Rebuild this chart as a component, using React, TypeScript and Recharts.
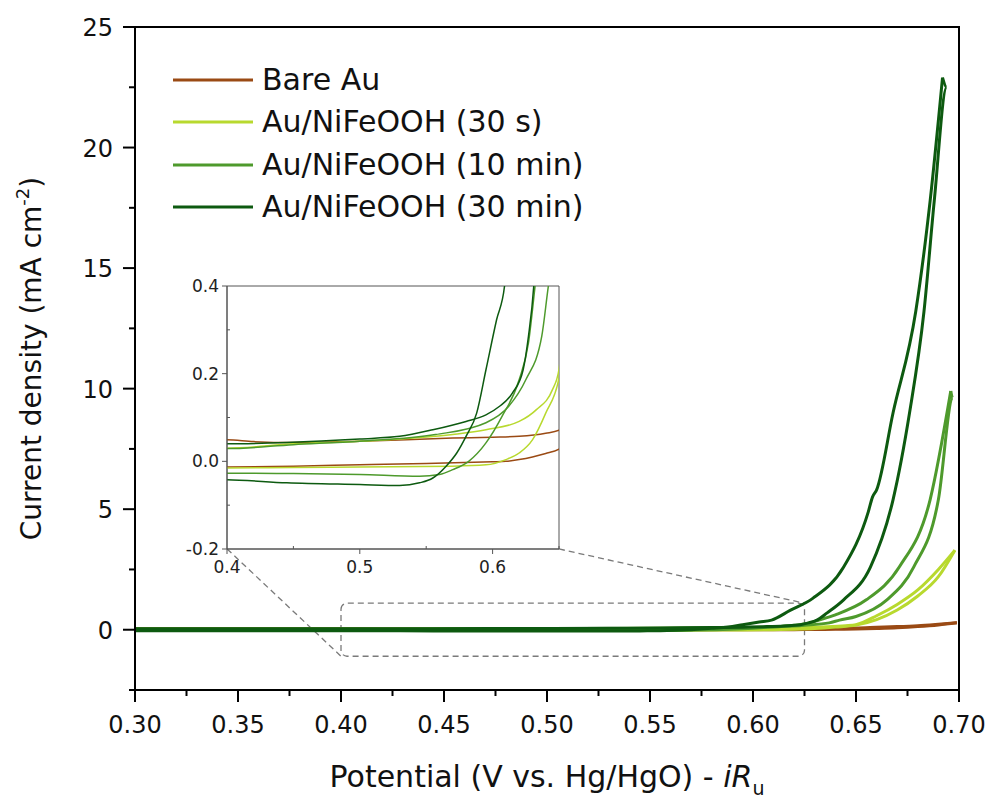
import React from 'react';
import { LineChart, Line, XAxis, YAxis, ReferenceArea, ReferenceLine, Legend } from 'recharts';

const FONT = 'DejaVu Sans';

const seriesNames = ['Bare Au', 'Au/NiFeOOH (30 s)', 'Au/NiFeOOH (10 min)', 'Au/NiFeOOH (30 min)'];
const seriesColors = ['#9a4a14', '#b8d92e', '#4e9a2c', '#0d5a10'];

// forward sweep (V vs Hg/HgO, mA cm-2)
const bareAuFwdV = [0.3, 0.35, 0.4, 0.45, 0.5, 0.55, 0.6, 0.61, 0.62, 0.63, 0.64, 0.65, 0.66, 0.67, 0.68, 0.69, 0.699];
const bareAuFwdJ = [-0.015, -0.014, -0.013, -0.011, -0.008, -0.005, -0.001, 0.0, 0.004, 0.01, 0.018, 0.028, 0.05, 0.08, 0.13, 0.2, 0.29];
// reverse sweep
const bareAuRevV = [0.69, 0.68, 0.67, 0.66, 0.65, 0.64, 0.62, 0.6, 0.57, 0.5, 0.45, 0.42, 0.4, 0.35, 0.3];
const bareAuRevJ = [0.23, 0.17, 0.13, 0.1, 0.071, 0.064, 0.057, 0.055, 0.053, 0.046, 0.043, 0.045, 0.049, 0.05, 0.05];

const s30FwdV = [0.3, 0.35, 0.4, 0.45, 0.5, 0.57, 0.595, 0.61, 0.62, 0.63, 0.64, 0.65, 0.66, 0.67, 0.68, 0.69, 0.698];
const s30FwdJ = [-0.016, -0.015, -0.015, -0.014, -0.013, -0.011, -0.008, 0.004, 0.019, 0.049, 0.11, 0.19, 0.42, 0.82, 1.4, 2.2, 3.3];
const s30RevV = [0.69, 0.68, 0.67, 0.66, 0.65, 0.645, 0.633, 0.62, 0.595, 0.57, 0.5, 0.45, 0.4, 0.35, 0.3];
const s30RevJ = [2.5, 1.65, 1.05, 0.58, 0.21, 0.163, 0.118, 0.091, 0.072, 0.061, 0.046, 0.04, 0.03, 0.03, 0.03];

const min10FwdV = [0.3, 0.35, 0.4, 0.45, 0.5, 0.545, 0.56, 0.57, 0.582, 0.595, 0.607, 0.62, 0.627, 0.632, 0.64, 0.655, 0.671, 0.686, 0.696];
const min10FwdJ = [-0.027, -0.027, -0.027, -0.028, -0.03, -0.034, -0.03, -0.019, 0.0, 0.042, 0.102, 0.186, 0.27, 0.4, 0.62, 1.24, 2.6, 5.4, 9.9];
const min10RevV = [0.697, 0.69, 0.678, 0.665, 0.65, 0.642, 0.637, 0.625, 0.612, 0.595, 0.557, 0.5, 0.45, 0.4, 0.35, 0.3];
const min10RevJ = [9.6, 5.4, 2.6, 1.24, 0.55, 0.4, 0.285, 0.186, 0.125, 0.088, 0.061, 0.046, 0.038, 0.029, 0.029, 0.029];

const min30FwdV = [0.3, 0.35, 0.4, 0.445, 0.5, 0.53, 0.545, 0.555, 0.565, 0.573, 0.58, 0.588, 0.595, 0.603, 0.609, 0.618, 0.629, 0.644, 0.656, 0.658, 0.66, 0.668, 0.679, 0.686, 0.692];
const min30FwdJ = [-0.04, -0.041, -0.042, -0.049, -0.053, -0.055, -0.049, -0.038, -0.011, 0.019, 0.057, 0.11, 0.209, 0.323, 0.4, 0.8, 1.3, 2.6, 4.9, 5.5, 5.8, 9.0, 13.2, 17.8, 22.9];
const min30RevV = [0.694, 0.688, 0.683, 0.676, 0.668, 0.657, 0.644, 0.636, 0.631, 0.627, 0.623, 0.615, 0.605, 0.595, 0.58, 0.555, 0.53, 0.5, 0.445, 0.4, 0.35, 0.3];
const min30RevJ = [22.5, 17.8, 13.2, 9.0, 5.4, 2.6, 1.24, 0.7, 0.4, 0.285, 0.209, 0.156, 0.125, 0.106, 0.091, 0.072, 0.057, 0.051, 0.043, 0.04, 0.04, 0.04];

const xMajor = [0.3, 0.35, 0.4, 0.45, 0.5, 0.55, 0.6, 0.65, 0.7];
const xMinor = [0.325, 0.375, 0.425, 0.475, 0.525, 0.575, 0.625, 0.675];
const yMajor = [0, 5, 10, 15, 20, 25];
const yMinor = [-2.5, 2.5, 7.5, 12.5, 17.5, 22.5];

const insetXMajor = [0.4, 0.5, 0.6];
const insetXMinor = [0.45, 0.55, 0.65];
const insetYMajor = [-0.2, 0, 0.2, 0.4];
const insetYMinor = [-0.1, 0.1, 0.3];

const toPoints = (v: number[], j: number[]) => v.map((x, i) => ({ v: x, j: j[i] }));
// reverse sweep starts where the forward one turned round
const sweeps = (fv: number[], fj: number[], rv: number[], rj: number[]) => ({
  fwd: toPoints(fv, fj),
  rev: toPoints([fv[fv.length - 1], ...rv], [fj[fj.length - 1], ...rj]),
});

const series = [
  sweeps(bareAuFwdV, bareAuFwdJ, bareAuRevV, bareAuRevJ),
  sweeps(s30FwdV, s30FwdJ, s30RevV, s30RevJ),
  sweeps(min10FwdV, min10FwdJ, min10RevV, min10RevJ),
  sweeps(min30FwdV, min30FwdJ, min30RevV, min30RevJ),
];

const isIn = (v: number, list: number[]) => list.some((m) => Math.abs(m - v) < 1e-6);
const sortNum = (a: number[]) => [...a].sort((p, q) => p - q);

function MainXTick(p: any) {
  const v = p.payload.value;
  const major = isIn(v, xMajor);
  return (
    <g>
      <line x1={p.x} x2={p.x} y1={p.y} y2={p.y + (major ? 12 : 6)} stroke="#000" strokeWidth={2} />
      {major && (
        <text x={p.x} y={p.y + 43} textAnchor="middle" fontSize={24} fontFamily={FONT} fill="#111">
          {v.toFixed(2)}
        </text>
      )}
    </g>
  );
}

function MainYTick(p: any) {
  const v = p.payload.value;
  const major = isIn(v, yMajor);
  return (
    <g>
      <line x1={p.x - (major ? 12 : 6)} x2={p.x} y1={p.y} y2={p.y} stroke="#000" strokeWidth={2} />
      {major && (
        <text x={p.x - 22} y={p.y + 9} textAnchor="end" fontSize={24} fontFamily={FONT} fill="#111">
          {String(v)}
        </text>
      )}
    </g>
  );
}

function InsetXTick(p: any) {
  const v = p.payload.value;
  const major = isIn(v, insetXMajor);
  return (
    <g>
      <line x1={p.x} x2={p.x} y1={p.y} y2={major ? p.y + 5 : p.y - 3} stroke="#555" strokeWidth={1} />
      {major && (
        <text x={p.x} y={p.y + 24} textAnchor="middle" fontSize={17} fontFamily={FONT} fill="#222">
          {v.toFixed(1)}
        </text>
      )}
    </g>
  );
}

function InsetYTick(p: any) {
  const v = p.payload.value;
  const major = isIn(v, insetYMajor);
  return (
    <g>
      <line x1={major ? p.x - 5 : p.x + 3} x2={p.x} y1={p.y} y2={p.y} stroke="#555" strokeWidth={1} />
      {major && (
        <text x={p.x - 8} y={p.y + 6} textAnchor="end" fontSize={17} fontFamily={FONT} fill="#222">
          {v.toFixed(1)}
        </text>
      )}
    </g>
  );
}

function XTitle(p: any) {
  const vb = p.viewBox;
  return (
    <text x={vb.x + vb.width / 2} y={787} textAnchor="middle" fontSize={30} fontFamily={FONT} fill="#111">
      Potential (V vs. Hg/HgO) - <tspan fontStyle="italic">iR</tspan>
      <tspan dy={8} fontSize={19}>u</tspan>
    </text>
  );
}

function YTitle(p: any) {
  const vb = p.viewBox;
  const cy = vb.y + vb.height / 2;
  return (
    <text transform={`translate(41,${cy}) rotate(-90)`} textAnchor="middle" fontSize={28} fontFamily={FONT} fill="#111">
      Current density (mA cm<tspan dy={-12} fontSize={18}>-2</tspan>
      <tspan dy={12}>)</tspan>
    </text>
  );
}

function LegendBox(props: any) {
  // one entry per sample: drop the reverse sweeps, keep the series order
  const items = (props.payload || [])
    .filter((e: any) => seriesNames.includes(e.value))
    .sort((a: any, b: any) => seriesNames.indexOf(a.value) - seriesNames.indexOf(b.value));
  return (
    <div style={{ fontFamily: FONT }}>
      {items.map((e: any) => (
        <div key={e.value} style={{ height: 42.3, display: 'flex', alignItems: 'center' }}>
          <svg width={80} height={6} style={{ display: 'block' }}>
            <line x1={0} x2={80} y1={3} y2={3} stroke={e.color} strokeWidth={3} />
          </svg>
          <span style={{ marginLeft: 9, fontSize: 30, color: '#111', lineHeight: 1, whiteSpace: 'nowrap' }}>{e.value}</span>
        </div>
      ))}
    </div>
  );
}

function sweepLines(width: number) {
  return series.flatMap((s, i) => [
    <Line
      key={seriesNames[i] + '-fwd'}
      data={s.fwd}
      dataKey="j"
      name={seriesNames[i]}
      stroke={seriesColors[i]}
      strokeWidth={width}
      type="monotone"
      dot={false}
      activeDot={false}
      isAnimationActive={false}
    />,
    <Line
      key={seriesNames[i] + '-rev'}
      data={s.rev}
      dataKey="j"
      name={seriesNames[i] + ' reverse'}
      legendType="none"
      stroke={seriesColors[i]}
      strokeWidth={width}
      type="monotone"
      dot={false}
      activeDot={false}
      isAnimationActive={false}
    />,
  ]);
}

export default function App() {
  return (
    <div style={{ position: 'absolute', left: 0, top: 0, width: 989, height: 799, background: '#fff' }}>
      <LineChart width={989} height={799} margin={{ top: 27, right: 30, left: 0, bottom: 0 }}>
        <XAxis
          dataKey="v"
          type="number"
          domain={[0.3, 0.7]}
          ticks={sortNum([...xMajor, ...xMinor])}
          interval={0}
          height={109}
          tickSize={0}
          tickMargin={0}
          tickLine={false}
          tick={(p: any) => <MainXTick {...p} />}
          axisLine={{ stroke: '#000', strokeWidth: 2 }}
          label={(p: any) => <XTitle {...p} />}
        />
        <YAxis
          dataKey="j"
          type="number"
          domain={[-2.5, 25]}
          ticks={sortNum([...yMajor, ...yMinor])}
          interval={0}
          width={135}
          tickSize={0}
          tickMargin={0}
          tickLine={false}
          tick={(p: any) => <MainYTick {...p} />}
          axisLine={{ stroke: '#000', strokeWidth: 2 }}
          label={(p: any) => <YTitle {...p} />}
        />
        <ReferenceArea x1={0.3} x2={0.7} y1={-2.5} y2={25} fill="none" stroke="#000" strokeWidth={2} />
        <ReferenceArea
          x1={0.4}
          x2={0.625}
          y1={-1.1}
          y2={1.1}
          fill="none"
          stroke="#7a7a7a"
          strokeWidth={1.3}
          strokeDasharray="6 4"
          radius={6}
        />
        <ReferenceLine segment={[{ x: 0.3447, y: 3.35 }, { x: 0.4, y: -1.1 }]} stroke="#7a7a7a" strokeWidth={1.3} strokeDasharray="6 4" />
        <ReferenceLine segment={[{ x: 0.5058, y: 3.35 }, { x: 0.625, y: 1.1 }]} stroke="#7a7a7a" strokeWidth={1.3} strokeDasharray="6 4" />
        {sweepLines(3)}
        <Legend
          layout="vertical"
          align="center"
          verticalAlign="middle"
          wrapperStyle={{ top: 59, left: 173, width: 460 }}
          content={(p: any) => <LegendBox {...p} />}
        />
      </LineChart>

      <div style={{ position: 'absolute', left: 169, top: 276 }}>
        <LineChart width={400} height={313} margin={{ top: 10, right: 10, left: 0, bottom: 0 }}>
          <XAxis
            dataKey="v"
            type="number"
            domain={[0.4, 0.65]}
            allowDataOverflow
            ticks={sortNum([...insetXMajor, ...insetXMinor])}
            interval={0}
            height={40}
            tickSize={0}
            tickMargin={0}
            tickLine={false}
            tick={(p: any) => <InsetXTick {...p} />}
            axisLine={{ stroke: '#555', strokeWidth: 1 }}
          />
          <YAxis
            dataKey="j"
            type="number"
            domain={[-0.2, 0.4]}
            allowDataOverflow
            ticks={sortNum([...insetYMajor, ...insetYMinor])}
            interval={0}
            width={58}
            tickSize={0}
            tickMargin={0}
            tickLine={false}
            tick={(p: any) => <InsetYTick {...p} />}
            axisLine={{ stroke: '#555', strokeWidth: 1 }}
          />
          <ReferenceArea x1={0.4} x2={0.65} y1={-0.2} y2={0.4} fill="none" stroke="#555" strokeWidth={1} />
          {sweepLines(1.5)}
        </LineChart>
      </div>
    </div>
  );
}
